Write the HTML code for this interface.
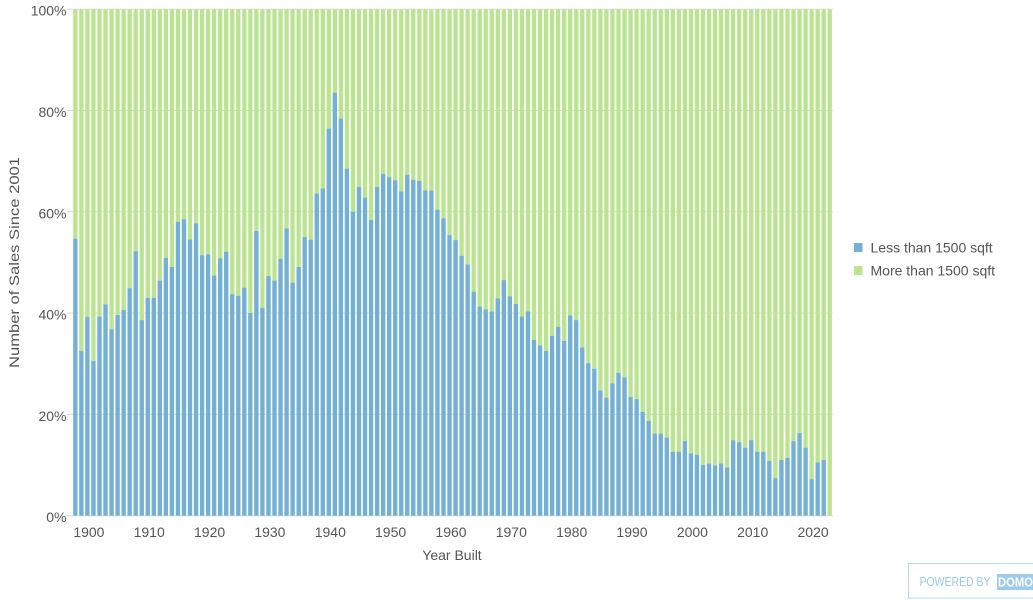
<!DOCTYPE html>
<html><head><meta charset="utf-8"><style>
html,body{margin:0;padding:0;background:#fff;}
svg{display:block;font-family:"Liberation Sans",sans-serif;}
</style></head><body>
<svg width="1033" height="600" viewBox="0 0 1033 600" xmlns="http://www.w3.org/2000/svg">
<rect width="1033" height="600" fill="#fff"/>
<g stroke="#dadada" stroke-width="1">
<line x1="67" x2="833" y1="515.7" y2="515.7"/>
<line x1="67" x2="833" y1="414.4" y2="414.4"/>
<line x1="67" x2="833" y1="313.1" y2="313.1"/>
<line x1="67" x2="833" y1="211.8" y2="211.8"/>
<line x1="67" x2="833" y1="110.5" y2="110.5"/>
<line x1="67" x2="833" y1="9.2" y2="9.2"/>
</g>
<g transform="translate(72.3,515.7) scale(6.035,-5.065)">
<g fill="#BBE491">
<rect x="0.15" width=".71" height="100"/><rect x="1.15" width=".71" height="100"/><rect x="2.15" width=".71" height="100"/><rect x="3.15" width=".71" height="100"/><rect x="4.15" width=".71" height="100"/><rect x="5.15" width=".71" height="100"/><rect x="6.15" width=".71" height="100"/><rect x="7.15" width=".71" height="100"/><rect x="8.15" width=".71" height="100"/><rect x="9.15" width=".71" height="100"/>
<rect x="10.15" width=".71" height="100"/><rect x="11.15" width=".71" height="100"/><rect x="12.15" width=".71" height="100"/><rect x="13.15" width=".71" height="100"/><rect x="14.15" width=".71" height="100"/><rect x="15.15" width=".71" height="100"/><rect x="16.15" width=".71" height="100"/><rect x="17.15" width=".71" height="100"/><rect x="18.15" width=".71" height="100"/><rect x="19.15" width=".71" height="100"/>
<rect x="20.15" width=".71" height="100"/><rect x="21.15" width=".71" height="100"/><rect x="22.15" width=".71" height="100"/><rect x="23.15" width=".71" height="100"/><rect x="24.15" width=".71" height="100"/><rect x="25.15" width=".71" height="100"/><rect x="26.15" width=".71" height="100"/><rect x="27.15" width=".71" height="100"/><rect x="28.15" width=".71" height="100"/><rect x="29.15" width=".71" height="100"/>
<rect x="30.15" width=".71" height="100"/><rect x="31.15" width=".71" height="100"/><rect x="32.15" width=".71" height="100"/><rect x="33.15" width=".71" height="100"/><rect x="34.15" width=".71" height="100"/><rect x="35.15" width=".71" height="100"/><rect x="36.15" width=".71" height="100"/><rect x="37.15" width=".71" height="100"/><rect x="38.15" width=".71" height="100"/><rect x="39.15" width=".71" height="100"/>
<rect x="40.15" width=".71" height="100"/><rect x="41.15" width=".71" height="100"/><rect x="42.15" width=".71" height="100"/><rect x="43.15" width=".71" height="100"/><rect x="44.15" width=".71" height="100"/><rect x="45.15" width=".71" height="100"/><rect x="46.15" width=".71" height="100"/><rect x="47.15" width=".71" height="100"/><rect x="48.15" width=".71" height="100"/><rect x="49.15" width=".71" height="100"/>
<rect x="50.15" width=".71" height="100"/><rect x="51.15" width=".71" height="100"/><rect x="52.15" width=".71" height="100"/><rect x="53.15" width=".71" height="100"/><rect x="54.15" width=".71" height="100"/><rect x="55.15" width=".71" height="100"/><rect x="56.15" width=".71" height="100"/><rect x="57.15" width=".71" height="100"/><rect x="58.15" width=".71" height="100"/><rect x="59.15" width=".71" height="100"/>
<rect x="60.15" width=".71" height="100"/><rect x="61.15" width=".71" height="100"/><rect x="62.15" width=".71" height="100"/><rect x="63.15" width=".71" height="100"/><rect x="64.15" width=".71" height="100"/><rect x="65.15" width=".71" height="100"/><rect x="66.15" width=".71" height="100"/><rect x="67.15" width=".71" height="100"/><rect x="68.15" width=".71" height="100"/><rect x="69.15" width=".71" height="100"/>
<rect x="70.15" width=".71" height="100"/><rect x="71.15" width=".71" height="100"/><rect x="72.15" width=".71" height="100"/><rect x="73.15" width=".71" height="100"/><rect x="74.15" width=".71" height="100"/><rect x="75.15" width=".71" height="100"/><rect x="76.15" width=".71" height="100"/><rect x="77.15" width=".71" height="100"/><rect x="78.15" width=".71" height="100"/><rect x="79.15" width=".71" height="100"/>
<rect x="80.15" width=".71" height="100"/><rect x="81.15" width=".71" height="100"/><rect x="82.15" width=".71" height="100"/><rect x="83.15" width=".71" height="100"/><rect x="84.15" width=".71" height="100"/><rect x="85.15" width=".71" height="100"/><rect x="86.15" width=".71" height="100"/><rect x="87.15" width=".71" height="100"/><rect x="88.15" width=".71" height="100"/><rect x="89.15" width=".71" height="100"/>
<rect x="90.15" width=".71" height="100"/><rect x="91.15" width=".71" height="100"/><rect x="92.15" width=".71" height="100"/><rect x="93.15" width=".71" height="100"/><rect x="94.15" width=".71" height="100"/><rect x="95.15" width=".71" height="100"/><rect x="96.15" width=".71" height="100"/><rect x="97.15" width=".71" height="100"/><rect x="98.15" width=".71" height="100"/><rect x="99.15" width=".71" height="100"/>
<rect x="100.15" width=".71" height="100"/><rect x="101.15" width=".71" height="100"/><rect x="102.15" width=".71" height="100"/><rect x="103.15" width=".71" height="100"/><rect x="104.15" width=".71" height="100"/><rect x="105.15" width=".71" height="100"/><rect x="106.15" width=".71" height="100"/><rect x="107.15" width=".71" height="100"/><rect x="108.15" width=".71" height="100"/><rect x="109.15" width=".71" height="100"/>
<rect x="110.15" width=".71" height="100"/><rect x="111.15" width=".71" height="100"/><rect x="112.15" width=".71" height="100"/><rect x="113.15" width=".71" height="100"/><rect x="114.15" width=".71" height="100"/><rect x="115.15" width=".71" height="100"/><rect x="116.15" width=".71" height="100"/><rect x="117.15" width=".71" height="100"/><rect x="118.15" width=".71" height="100"/><rect x="119.15" width=".71" height="100"/>
<rect x="120.15" width=".71" height="100"/><rect x="121.15" width=".71" height="100"/><rect x="122.15" width=".71" height="100"/><rect x="123.15" width=".71" height="100"/><rect x="124.15" width=".71" height="100"/><rect x="125.15" width=".71" height="100"/>
</g>
<g fill="#73B0D7">
<rect x="0.15" width=".71" height="54.7"/><rect x="1.15" width=".71" height="32.5"/><rect x="2.15" width=".71" height="39.2"/><rect x="3.15" width=".71" height="30.5"/><rect x="4.15" width=".71" height="39.3"/><rect x="5.15" width=".71" height="41.7"/><rect x="6.15" width=".71" height="36.8"/><rect x="7.15" width=".71" height="39.6"/><rect x="8.15" width=".71" height="40.6"/><rect x="9.15" width=".71" height="44.9"/>
<rect x="10.15" width=".71" height="52.2"/><rect x="11.15" width=".71" height="38.6"/><rect x="12.15" width=".71" height="43.0"/><rect x="13.15" width=".71" height="43.0"/><rect x="14.15" width=".71" height="46.4"/><rect x="15.15" width=".71" height="50.9"/><rect x="16.15" width=".71" height="49.1"/><rect x="17.15" width=".71" height="58.0"/><rect x="18.15" width=".71" height="58.5"/><rect x="19.15" width=".71" height="54.5"/>
<rect x="20.15" width=".71" height="57.7"/><rect x="21.15" width=".71" height="51.4"/><rect x="22.15" width=".71" height="51.6"/><rect x="23.15" width=".71" height="47.4"/><rect x="24.15" width=".71" height="50.8"/><rect x="25.15" width=".71" height="52.1"/><rect x="26.15" width=".71" height="43.7"/><rect x="27.15" width=".71" height="43.4"/><rect x="28.15" width=".71" height="45.0"/><rect x="29.15" width=".71" height="40.0"/>
<rect x="30.15" width=".71" height="56.2"/><rect x="31.15" width=".71" height="41.0"/><rect x="32.15" width=".71" height="47.3"/><rect x="33.15" width=".71" height="46.4"/><rect x="34.15" width=".71" height="50.7"/><rect x="35.15" width=".71" height="56.7"/><rect x="36.15" width=".71" height="46.0"/><rect x="37.15" width=".71" height="49.1"/><rect x="38.15" width=".71" height="55.0"/><rect x="39.15" width=".71" height="54.5"/>
<rect x="40.15" width=".71" height="63.6"/><rect x="41.15" width=".71" height="64.6"/><rect x="42.15" width=".71" height="76.4"/><rect x="43.15" width=".71" height="83.5"/><rect x="44.15" width=".71" height="78.4"/><rect x="45.15" width=".71" height="68.5"/><rect x="46.15" width=".71" height="60.0"/><rect x="47.15" width=".71" height="64.9"/><rect x="48.15" width=".71" height="62.8"/><rect x="49.15" width=".71" height="58.4"/>
<rect x="50.15" width=".71" height="64.9"/><rect x="51.15" width=".71" height="67.5"/><rect x="52.15" width=".71" height="66.8"/><rect x="53.15" width=".71" height="66.2"/><rect x="54.15" width=".71" height="64.0"/><rect x="55.15" width=".71" height="67.3"/><rect x="56.15" width=".71" height="66.3"/><rect x="57.15" width=".71" height="66.1"/><rect x="58.15" width=".71" height="64.2"/><rect x="59.15" width=".71" height="64.2"/>
<rect x="60.15" width=".71" height="60.4"/><rect x="61.15" width=".71" height="58.7"/><rect x="62.15" width=".71" height="55.4"/><rect x="63.15" width=".71" height="54.4"/><rect x="64.15" width=".71" height="51.3"/><rect x="65.15" width=".71" height="49.6"/><rect x="66.15" width=".71" height="44.2"/><rect x="67.15" width=".71" height="41.3"/><rect x="68.15" width=".71" height="40.7"/><rect x="69.15" width=".71" height="40.3"/>
<rect x="70.15" width=".71" height="42.9"/><rect x="71.15" width=".71" height="46.5"/><rect x="72.15" width=".71" height="43.3"/><rect x="73.15" width=".71" height="41.8"/><rect x="74.15" width=".71" height="39.3"/><rect x="75.15" width=".71" height="40.3"/><rect x="76.15" width=".71" height="34.7"/><rect x="77.15" width=".71" height="33.6"/><rect x="78.15" width=".71" height="32.5"/><rect x="79.15" width=".71" height="35.5"/>
<rect x="80.15" width=".71" height="37.3"/><rect x="81.15" width=".71" height="34.5"/><rect x="82.15" width=".71" height="39.5"/><rect x="83.15" width=".71" height="38.6"/><rect x="84.15" width=".71" height="33.2"/><rect x="85.15" width=".71" height="30.1"/><rect x="86.15" width=".71" height="29.0"/><rect x="87.15" width=".71" height="24.7"/><rect x="88.15" width=".71" height="23.3"/><rect x="89.15" width=".71" height="26.1"/>
<rect x="90.15" width=".71" height="28.2"/><rect x="91.15" width=".71" height="27.3"/><rect x="92.15" width=".71" height="23.4"/><rect x="93.15" width=".71" height="23.0"/><rect x="94.15" width=".71" height="20.5"/><rect x="95.15" width=".71" height="18.7"/><rect x="96.15" width=".71" height="16.2"/><rect x="97.15" width=".71" height="16.2"/><rect x="98.15" width=".71" height="15.4"/><rect x="99.15" width=".71" height="12.6"/>
<rect x="100.15" width=".71" height="12.6"/><rect x="101.15" width=".71" height="14.7"/><rect x="102.15" width=".71" height="12.3"/><rect x="103.15" width=".71" height="12.0"/><rect x="104.15" width=".71" height="10.0"/><rect x="105.15" width=".71" height="10.3"/><rect x="106.15" width=".71" height="9.9"/><rect x="107.15" width=".71" height="10.3"/><rect x="108.15" width=".71" height="9.5"/><rect x="109.15" width=".71" height="14.9"/>
<rect x="110.15" width=".71" height="14.5"/><rect x="111.15" width=".71" height="13.4"/><rect x="112.15" width=".71" height="14.9"/><rect x="113.15" width=".71" height="12.6"/><rect x="114.15" width=".71" height="12.6"/><rect x="115.15" width=".71" height="10.8"/><rect x="116.15" width=".71" height="7.4"/><rect x="117.15" width=".71" height="11.0"/><rect x="118.15" width=".71" height="11.4"/><rect x="119.15" width=".71" height="14.7"/>
<rect x="120.15" width=".71" height="16.3"/><rect x="121.15" width=".71" height="13.4"/><rect x="122.15" width=".71" height="7.2"/><rect x="123.15" width=".71" height="10.5"/><rect x="124.15" width=".71" height="11.0"/>
</g>
</g>
<g font-size="14" fill="#555" text-anchor="end">
<text x="66.5" y="522.2">0%</text>
<text x="66.5" y="420.9">20%</text>
<text x="66.5" y="319.6">40%</text>
<text x="66.5" y="218.3">60%</text>
<text x="66.5" y="117">80%</text>
<text x="66.5" y="15.7">100%</text>
</g>
<g font-size="14" fill="#555" text-anchor="middle">
<text x="88.9" y="537">1900</text>
<text x="149.2" y="537">1910</text>
<text x="209.6" y="537">1920</text>
<text x="269.9" y="537">1930</text>
<text x="330.3" y="537">1940</text>
<text x="390.6" y="537">1950</text>
<text x="451" y="537">1960</text>
<text x="511.3" y="537">1970</text>
<text x="571.7" y="537">1980</text>
<text x="632" y="537">1990</text>
<text x="692.4" y="537">2000</text>
<text x="752.7" y="537">2010</text>
<text x="813.1" y="537">2020</text>
<text x="452" y="560">Year Built</text>
<text transform="translate(19,262.5) rotate(-90)" x="0" y="0" textLength="211" lengthAdjust="spacingAndGlyphs">Number of Sales Since 2001</text>
</g>
<rect x="854" y="243" width="8.5" height="9" fill="#73B0D7"/>
<rect x="854" y="266" width="8.5" height="9" fill="#BBE491"/>
<g font-size="14" fill="#555">
<text x="870.5" y="252.5">Less than 1500 sqft</text>
<text x="870.5" y="275.5">More than 1500 sqft</text>
</g>
<rect x="908.5" y="563.5" width="130" height="34.5" fill="#fff" stroke="#b5d9f0" stroke-width="1"/>
<text x="919.5" y="586" font-size="13" fill="#9ccbec" textLength="71" lengthAdjust="spacingAndGlyphs">POWERED BY</text>
<rect x="997" y="574" width="36" height="16" fill="#9ccbec"/>
<text x="998" y="586.5" font-size="13" font-weight="bold" fill="#fff" textLength="35" lengthAdjust="spacingAndGlyphs">DOMO</text>
</svg>
</body></html>
